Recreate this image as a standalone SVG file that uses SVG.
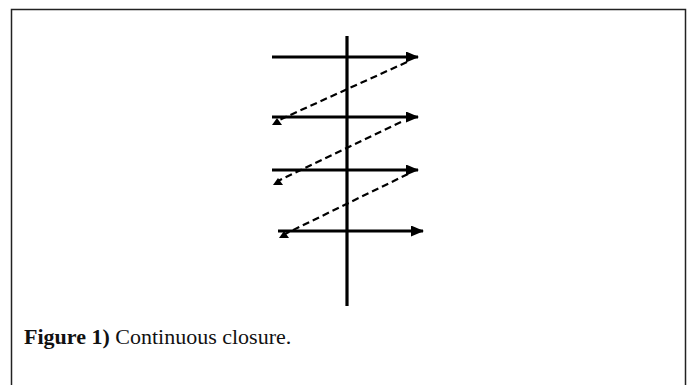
<svg xmlns="http://www.w3.org/2000/svg" width="689" height="385" viewBox="0 0 689 385">
<style>
.ax{stroke:#000;stroke-width:3.2;fill:none}
.dash{stroke:#000;stroke-width:2.2;stroke-dasharray:7 4;fill:none}
.tri{fill:#000}
.cap{font-family:"Liberation Serif",serif;font-size:22px;fill:#111}
</style>
<defs>
<marker id="ah" markerWidth="13" markerHeight="11" refX="12" refY="5.5" orient="auto" markerUnits="userSpaceOnUse">
<path d="M0,0 L13,5.5 L0,11 Z" fill="#000"/>
</marker>
</defs>
<rect width="689" height="385" fill="#fff"/>
<path d="M11.5,385 V9.5 H685.5 V385" fill="none" stroke="#222" stroke-width="1.5"/>
<g id="axis">
<line class="ax" x1="347" y1="36" x2="347" y2="306"/>
</g>
<g id="connectors">
<line class="ax" x1="272" y1="57" x2="418" y2="57" marker-end="url(#ah)"/>
<line class="ax" x1="272" y1="117" x2="418" y2="117" marker-end="url(#ah)"/>
<line class="ax" x1="272" y1="170" x2="418" y2="170" marker-end="url(#ah)"/>
<line class="ax" x1="278" y1="231" x2="423" y2="231" marker-end="url(#ah)"/>
<line class="dash" x1="407" y1="62" x2="277" y2="121"/>
<line class="dash" x1="401" y1="122" x2="278" y2="181"/>
<line class="dash" x1="408" y1="174" x2="285" y2="234"/>
</g>
<g id="markers">
<polygon class="tri" points="272,125 282,125 277,118"/>
<polygon class="tri" points="273,185 283,185 278,178"/>
<polygon class="tri" points="279,238 289,238 284,231"/>
</g>
<g id="caption">
<text class="cap" x="24" y="344"><tspan font-weight="bold">Figure 1)</tspan> Continuous closure.</text>
</g>
</svg>
